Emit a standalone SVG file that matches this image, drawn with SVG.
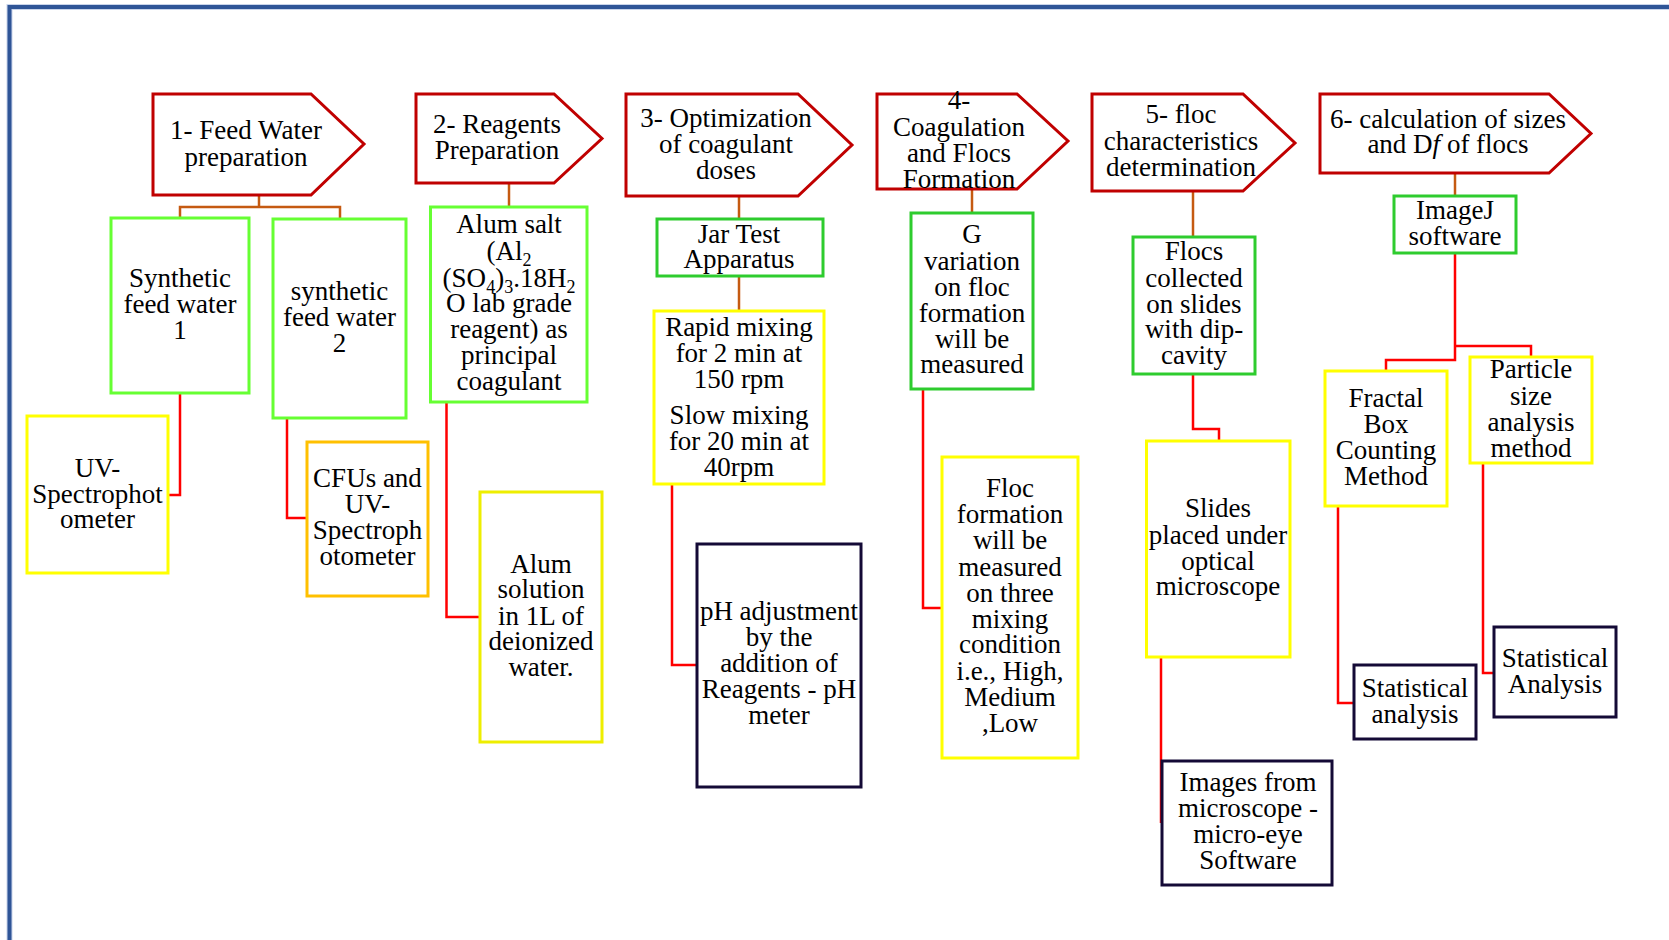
<svg xmlns="http://www.w3.org/2000/svg" width="1669" height="940" viewBox="0 0 1669 940">
<style>
text{font-family:"Liberation Serif","Times New Roman",serif;font-size:27px;fill:#000;text-anchor:middle}
.hdr{fill:#fff;stroke:#c00000;stroke-width:3}
.g1{fill:#fff;stroke:#66ff33;stroke-width:3}
.g2{fill:#fff;stroke:#2ecc2e;stroke-width:3}
.y{fill:#fff;stroke:#ffff00;stroke-width:3}
.y2{fill:#fff;stroke:#eeee00;stroke-width:3}
.o{fill:#fff;stroke:#ffc000;stroke-width:3}
.d{fill:#fff;stroke:#140a36;stroke-width:3}
.cb{fill:none;stroke:#c55a11;stroke-width:2.5}
.cr{fill:none;stroke:#ff0000;stroke-width:2.5}
.sub{font-size:18px}
</style>
<rect width="1669" height="940" fill="#fff"/>
<path d="M9.5 940 V7 H1669" fill="none" stroke="#c9d4ea" stroke-width="6"/>
<path d="M9.5 940 V7 H1669" fill="none" stroke="#2f5597" stroke-width="4"/>

<g id="connectors">
<path class="cb" d="M259 195 V207 M180 218 V207 H340 V219"/>
<path class="cb" d="M509 183 V207"/>
<path class="cb" d="M739 196 V219 M739 276 V311"/>
<path class="cb" d="M972 189 V213"/>
<path class="cb" d="M1193 191 V237"/>
<path class="cb" d="M1455 173 V196"/>
<path class="cr" d="M180 393 V495 H168"/>
<path class="cr" d="M287 418 V518 H307"/>
<path class="cr" d="M446.5 402 V617 H480"/>
<path class="cr" d="M672 484 V665 H697"/>
<path class="cr" d="M923 389 V608 H942"/>
<path class="cr" d="M1193 374 V429 H1219 V441"/>
<path class="cr" d="M1161 657 V823"/>
<path class="cr" d="M1455 253 V360 H1386 V371 M1455 346 H1531 V357"/>
<path class="cr" d="M1338 506 V703 H1354"/>
<path class="cr" d="M1483 463 V673 H1494"/>
</g>

<g id="h1">
<polygon class="hdr" points="153,94 311,94 364,144 311,195 153,195"/>
<text x="246" y="139">1- Feed Water</text>
<text x="246" y="166">preparation</text>
</g>
<g id="h2">
<polygon class="hdr" points="416,94 554,94 602,138.5 554,183 416,183"/>
<text x="497" y="133">2- Reagents</text>
<text x="497" y="159">Preparation</text>
</g>
<g id="h3">
<polygon class="hdr" points="626,94 798,94 852,145 798,196 626,196"/>
<text x="726" y="127">3- Optimization</text>
<text x="726" y="153">of coagulant</text>
<text x="726" y="179">doses</text>
</g>
<g id="h4">
<polygon class="hdr" points="877,94 1017,94 1068,141 1017,189 877,189"/>
<text x="959" y="109">4-</text>
<text x="959" y="136">Coagulation</text>
<text x="959" y="162">and Flocs</text>
<text x="959" y="188">Formation</text>
</g>
<g id="h5">
<polygon class="hdr" points="1092,94 1243,94 1295,143 1243,191 1092,191"/>
<text x="1181" y="123">5- floc</text>
<text x="1181" y="150">characteristics</text>
<text x="1181" y="176">determination</text>
</g>
<g id="h6">
<polygon class="hdr" points="1320,94 1549,94 1591,133.5 1549,173 1320,173"/>
<text x="1448" y="128">6- calculation of sizes</text>
<text x="1448" y="153">and D<tspan font-style="italic">f</tspan> of flocs</text>
</g>

<g id="synth1">
<rect class="g1" x="111" y="218" width="138" height="175"/>
<text x="180" y="287">Synthetic</text>
<text x="180" y="313">feed water</text>
<text x="180" y="339">1</text>
</g>
<g id="synth2">
<rect class="g1" x="273" y="219" width="133" height="199"/>
<text x="339.5" y="300">synthetic</text>
<text x="339.5" y="326">feed water</text>
<text x="339.5" y="352">2</text>
</g>
<g id="alum">
<rect class="g1" x="430.5" y="207" width="156.5" height="195"/>
<text x="509" y="233">Alum salt</text>
<text x="509" y="260">(Al<tspan class="sub" dy="6">2</tspan></text>
<text x="509" y="287">(SO<tspan class="sub" dy="6">4</tspan><tspan dy="-6">)</tspan><tspan class="sub" dy="6">3</tspan><tspan dy="-6">.18H</tspan><tspan class="sub" dy="6">2</tspan></text>
<text x="509" y="312">O lab grade</text>
<text x="509" y="338">reagent) as</text>
<text x="509" y="364">principal</text>
<text x="509" y="390">coagulant</text>
</g>
<g id="uv">
<rect class="y" x="27" y="416" width="141" height="157"/>
<text x="97.5" y="477">UV-</text>
<text x="97.5" y="503">Spectrophot</text>
<text x="97.5" y="528">ometer</text>
</g>
<g id="cfu">
<rect class="o" x="307" y="442" width="121" height="154"/>
<text x="367.5" y="487">CFUs and</text>
<text x="367.5" y="513">UV-</text>
<text x="367.5" y="539">Spectroph</text>
<text x="367.5" y="565">otometer</text>
</g>
<g id="alumsol">
<rect class="y2" x="480" y="492" width="122" height="250"/>
<text x="541" y="573">Alum</text>
<text x="541" y="598">solution</text>
<text x="541" y="625">in 1L of</text>
<text x="541" y="650">deionized</text>
<text x="541" y="676">water.</text>
</g>
<g id="jar">
<rect class="g2" x="657" y="219" width="166" height="57"/>
<text x="739" y="243">Jar Test</text>
<text x="739" y="268">Apparatus</text>
</g>
<g id="rapid">
<rect class="y" x="654" y="311" width="170" height="173"/>
<text x="739" y="336">Rapid mixing</text>
<text x="739" y="362">for 2 min at</text>
<text x="739" y="388">150 rpm</text>
<text x="739" y="424">Slow mixing</text>
<text x="739" y="450">for 20 min at</text>
<text x="739" y="476">40rpm</text>
</g>
<g id="ph">
<rect class="d" x="697" y="544" width="164" height="243"/>
<text x="779" y="620">pH adjustment</text>
<text x="779" y="646">by the</text>
<text x="779" y="672">addition of</text>
<text x="779" y="698">Reagents - pH</text>
<text x="779" y="724">meter</text>
</g>
<g id="gvar">
<rect class="g2" x="911" y="213" width="122" height="176"/>
<text x="972" y="243">G</text>
<text x="972" y="270">variation</text>
<text x="972" y="296">on floc</text>
<text x="972" y="322">formation</text>
<text x="972" y="348">will be</text>
<text x="972" y="373">measured</text>
</g>
<g id="floc">
<rect class="y" x="942" y="457" width="136" height="301"/>
<text x="1010" y="497">Floc</text>
<text x="1010" y="523">formation</text>
<text x="1010" y="549">will be</text>
<text x="1010" y="576">measured</text>
<text x="1010" y="602">on three</text>
<text x="1010" y="628">mixing</text>
<text x="1010" y="653">condition</text>
<text x="1010" y="680">i.e., High,</text>
<text x="1010" y="706">Medium</text>
<text x="1010" y="732">,Low</text>
</g>
<g id="flocs">
<rect class="g2" x="1133" y="237" width="122" height="137"/>
<text x="1194" y="260">Flocs</text>
<text x="1194" y="287">collected</text>
<text x="1194" y="313">on slides</text>
<text x="1194" y="338">with dip-</text>
<text x="1194" y="364">cavity</text>
</g>
<g id="slides">
<rect class="y" x="1146.5" y="441" width="143.5" height="216"/>
<text x="1218" y="517">Slides</text>
<text x="1218" y="544">placed under</text>
<text x="1218" y="570">optical</text>
<text x="1218" y="595">microscope</text>
</g>
<g id="images">
<rect class="d" x="1162" y="761" width="170" height="124"/>
<text x="1248" y="791">Images from</text>
<text x="1248" y="817">microscope -</text>
<text x="1248" y="843">micro-eye</text>
<text x="1248" y="869">Software</text>
</g>
<g id="imagej">
<rect class="g2" x="1394" y="196" width="122" height="57"/>
<text x="1455" y="219">ImageJ</text>
<text x="1455" y="245">software</text>
</g>
<g id="fractal">
<rect class="y" x="1325" y="371" width="122" height="135"/>
<text x="1386" y="407">Fractal</text>
<text x="1386" y="433">Box</text>
<text x="1386" y="459">Counting</text>
<text x="1386" y="485">Method</text>
</g>
<g id="particle">
<rect class="y" x="1470" y="357" width="122" height="106"/>
<text x="1531" y="378">Particle</text>
<text x="1531" y="405">size</text>
<text x="1531" y="431">analysis</text>
<text x="1531" y="457">method</text>
</g>
<g id="stat1">
<rect class="d" x="1354" y="665" width="122" height="74"/>
<text x="1415" y="697">Statistical</text>
<text x="1415" y="723">analysis</text>
</g>
<g id="stat2">
<rect class="d" x="1494" y="627" width="122" height="90"/>
<text x="1555" y="667">Statistical</text>
<text x="1555" y="693">Analysis</text>
</g>
</svg>
